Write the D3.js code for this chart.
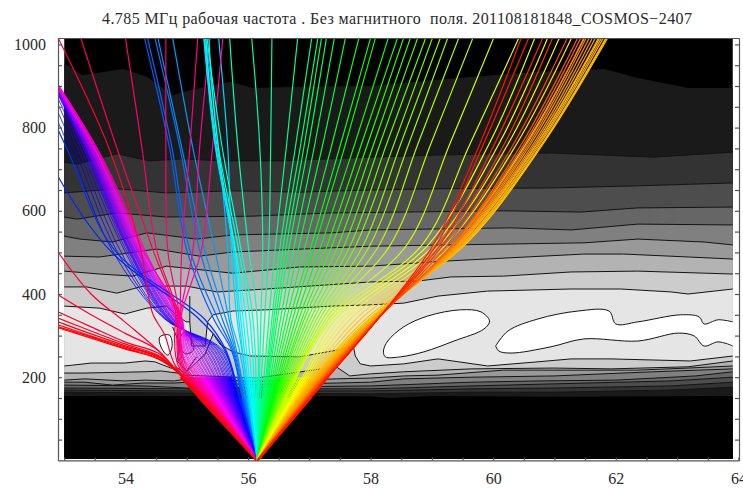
<!DOCTYPE html>
<html><head><meta charset="utf-8">
<script src="https://cdnjs.cloudflare.com/ajax/libs/d3/7.8.5/d3.min.js"></script>
<style>
html,body{margin:0;padding:0;background:#fff}
svg{display:block}
text{font-family:"Liberation Serif",serif;fill:#2a2a2a}
</style></head><body>
<svg id="c" width="743" height="488"></svg>
<script>
const title = "4.785 МГц рабочая частота . Без магнитного  поля. 201108181848_COSMOS−2407";
const xMajor = [54,56,58,60,62,64];
const yMajor = [200,400,600,800,1000];
const xTicks = [53,53.5,54,54.5,55,55.5,56,56.5,57,57.5,58,58.5,59,59.5,60,60.5,61,61.5,62,62.5,63,63.5,64];
const yTicks = [50,100,150,200,250,300,350,400,450,500,550,600,650,700,750,800,850,900,950,1000];
const rayOrigin = [56.15,0];

// Upper iso-lines, top to bottom: [degrees, km]
const upper0 = [[53,955],[53.3,926],[53.96,941],[54.35,922],[54.77,878],[55.05,890],[55.71,910],[56.08,895],[56.84,898],[58,900],[59.42,919],[60.73,934],[61.81,941],[62.36,919],[63.18,895],[63.91,895]];
const upper1 = [[53,717],[53.21,712],[53.86,737],[54.4,720],[54.94,725],[55.54,720],[56.56,720],[57.37,725],[58,729],[59.1,734],[60.17,737],[60.94,739],[62.62,729],[63.91,741]];
const upper2 = [[53,643],[53.86,653],[54.67,643],[55.75,648],[56.84,645],[58,650],[59.1,653],[60.94,655],[62.36,660],[63.91,667]];
const upper3 = [[53,585],[53.21,580],[53.86,595],[54.67,585],[56.03,587],[57.37,595],[58.54,597],[60.17,600],[61.43,597],[62.36,607],[63.91,609]];
const upper4 = [[53,539],[53.26,532],[53.79,525],[54.35,547],[55.16,532],[55.75,542],[57.37,547],[58,554],[60.29,559],[61.27,554],[62.36,568],[63.91,566]];
const upper5 = [[53,491],[53.58,489],[54.51,508],[55.21,491],[55.75,501],[58,515],[61.48,523],[62.36,532],[63.44,525],[63.91,518]];
const upper6 = [[53,455],[53.58,448],[54.12,443],[54.67,467],[55.75,450],[56.84,465],[58,467],[59.2,479],[61.48,496],[62.13,496],[63.18,489],[63.91,484]];
const upper7 = [[53,417],[53.37,417],[53.86,402],[54.29,419],[55,419],[55.49,405],[56.3,412],[58,429],[58.77,431],[59.31,441],[60.17,443],[61.27,453],[62.36,455],[63.91,448]];
const upperGrays = ["#1a1a1a","#333333","#4d4d4d","#666666","#808080","#999999","#b3b3b3","#cccccc"];

// The pale band
const paleTop = [[53,371],[53.58,366],[53.99,352],[54.35,366],[54.67,371],[54.85,347],[54.99,333],[55.05,333],[55.08,275],[55.3,275],[55.34,333],[55.43,350],[55.75,359],[56.3,362],[57.37,371],[58,374],[58.54,378],[59.1,395],[59.91,407],[61.27,412],[62.08,412],[62.9,405],[63.18,400],[63.91,412]];
const paleBottom = [[53,227],[53.14,229],[53.44,234],[53.99,234],[54.32,239],[54.48,237],[54.74,222],[54.85,222],[54.97,210],[55.3,255],[55.43,304],[55.54,280],[55.75,261],[56.03,251],[56.84,249],[57.37,263],[57.72,273],[57.75,251],[57.83,232],[58,227],[58.54,232],[59.1,244],[59.91,227],[60.73,237],[61.27,244],[61.92,244],[63.22,239],[63.91,251]];
const paleGray = "#e5e5e5";
const peakA = [[58.21,263],[58.28,287],[58.54,321],[58.93,347],[59.47,362],[59.8,357],[59.94,335],[59.85,316],[59.36,287],[58.87,261],[58.49,249],[58.24,249]];
const peakBTop = [[60.04,275],[60.24,311],[60.73,340],[61.38,359],[61.89,359],[62,328],[62.36,333],[63.06,350],[63.36,345],[63.44,328],[63.67,338],[63.91,333]];
const peakBBottom = [[60.04,275],[60.09,263],[60.29,258],[60.94,273],[61.48,292],[62.36,287],[63.02,306],[63.28,299],[63.44,275],[63.67,285],[63.91,275]];
const peakC = [[54.56,297],[54.72,301],[54.76,273],[54.69,253],[54.58,273]];
const loopD = [[54.94,306],[55.08,289],[55.11,265],[54.98,256],[54.88,277]];
const wiggle = [[54.77,321],[54.88,280],[54.84,239],[55,215],[55.16,249]];
const spur = [[55.05,395],[55.05,333]];

// Lower iso-lines, top to bottom
const lower1 = [[53,210],[53.34,210],[54.32,213],[54.58,215],[54.85,210],[54.97,205],[56.14,198],[57.44,225],[57.66,203],[58,208],[58.54,213],[59.64,220],[60.99,222],[61.92,220],[63.18,225],[63.91,239]];
const lower2 = [[53,193],[53.34,196],[53.99,191],[54.32,193],[54.8,191],[55,196],[56.14,190],[57.44,196],[58,198],[58.54,203],[59.1,205],[60.17,217],[62.36,217],[63.18,222],[63.91,227]];
const lower3 = [[53,188],[53.34,188],[53.79,181],[54.3,186],[54.8,186],[55,188],[56.14,182],[57.44,186],[58,188],[58.54,196],[59.64,200],[60.99,203],[62.6,213],[63.91,220]];
const lower4 = [[53,181],[54.3,179],[55,174],[56.14,176],[58,179],[59.64,188],[60.73,191],[62,193],[63.3,203],[63.91,213]];
const lower5 = [[53,174],[55,172],[58,172],[59.64,179],[61,184],[62.9,191],[63.91,200]];
const lower6 = [[53,169],[55,167],[58,167],[59.64,172],[61,174],[62.9,179],[63.91,188]];
const lower7 = [[53,164],[55,162],[58,160],[59.64,164],[61,164],[62.9,169],[63.91,176]];
const lower8 = [[53,155],[58,154],[58.3,150],[59,155],[61,153],[63.91,155]];
const lowerGrays = ["#b3b3b3","#999999","#808080","#666666","#4d4d4d","#333333","#1a1a1a","#000000"];

// Rays: longitude at each listed height
const centralHeights = [340,520,760,1016];
const cyanRays = [
[56.15,56.0,55.83,55.7],[56.08,55.87,55.57,55.33],[56.03,55.83,55.51,55.36],[55.97,55.78,55.49,55.29],
[55.92,55.77,55.47,55.31],[55.88,55.75,55.46,55.28],[55.85,55.75,55.47,55.28]];
const greenRays = [
[56.21,56.24,56.19,56.06],[56.27,56.34,56.37,56.39],[56.34,56.45,56.63,56.81],[56.39,56.53,56.78,57.04],
[56.42,56.58,56.86,57.14],[56.45,56.63,56.92,57.2],[56.48,56.68,56.99,57.28],[56.53,56.76,57.09,57.41],
[56.58,56.84,57.22,57.59],[56.63,56.94,57.37,57.81],[56.68,57.04,57.51,58],[56.73,57.1,57.59,58.08],
[56.78,57.2,57.74,58.29],[56.83,57.3,57.85,58.44],[56.88,57.38,57.95,58.54],[56.92,57.48,58.05,58.65],
[56.97,57.58,58.15,58.77],[57.02,57.68,58.26,58.9],[57.07,57.77,58.38,59.01],[57.12,57.89,58.49,59.14],
[57.17,58,58.62,59.26],[57.22,58.15,58.77,59.44],[57.27,58.33,58.98,59.67],[57.32,58.6,59.29,60.01],[57.37,58.85,59.62,60.42]];
const orangeHeights = [200,340,520,760,1016];
const orangeRays = [
[56.89,57.43,58.95,59.93,60.68],[56.92,57.51,59.05,60.09,60.89],[56.95,57.59,59.14,60.24,61.08],[56.98,57.67,59.24,60.38,61.28],
[57.01,57.76,59.34,60.53,61.49],[57.04,57.84,59.45,60.71,61.74],[57.07,57.92,59.55,60.81,61.87],[57.08,57.97,59.55,60.8,61.85],
[57.1,58,59.53,60.79,61.84],[57.11,58.02,59.51,60.76,61.8],[57.13,58.04,59.5,60.74,61.77],[57.14,58.06,59.47,60.71,61.72],
[57.15,58.07,59.45,60.68,61.67],[57.17,58.07,59.43,60.65,61.62],[57.18,58.08,59.42,60.61,61.57],[57.2,58.09,59.4,60.58,61.52],
[57.21,58.1,59.37,60.55,61.48],[57.23,58.1,59.35,60.5,61.43],[57.24,58.11,59.34,60.46,61.38],[57.26,58.12,59.26,60.33,61.21],
[57.28,58.12,59.19,60.18,60.97],[57.29,58.12,59.14,60.02,60.81],[57.3,58.12,59.08,59.84,60.58],[57.31,58.12,59.03,59.78,60.46]];

const leftHeights = [150,265,340,506,751,1016];
const azureRays = [
[56.01,55.9,55.82,55.73,55.67,55.52],[55.99,55.86,55.72,55.67,55.52,55.31],[55.96,55.81,55.69,55.46,55.1,54.77],
[55.95,55.79,55.64,55.29,54.92,54.53],[55.93,55.77,55.58,55.21,54.89,54.48],[55.92,55.75,55.51,55.05,54.76,54.36],
[55.91,55.73,55.44,55,54.72,54.31],[55.87,55.64,55.29,53.82,53.04,52.2],[55.86,55.62,55.2,53.74,52.65,51.95]];
const bundleRays = [
[55.83,55.59,54.64,53.78,53.09,52.27],[55.82,55.56,54.65,53.85,53.16,52.34],[55.8,55.54,54.66,53.91,53.22,52.4],
[55.79,55.51,54.68,53.98,53.27,52.44],[55.77,55.49,54.69,54.01,53.31,52.45],[55.76,55.46,54.7,54.04,53.32,52.46],
[55.74,55.44,54.71,54.05,53.34,52.44],[55.73,55.41,54.72,54.06,53.35,52.44],[55.72,55.39,54.73,54.07,53.36,52.44],
[55.7,55.36,54.75,54.08,53.37,52.44],[55.69,55.34,54.76,54.1,53.37,52.43],[55.67,55.31,54.77,54.11,53.38,52.43],
[55.66,55.29,54.78,54.12,53.39,52.43],[55.64,55.26,54.79,54.13,53.4,52.43],[55.63,55.23,54.81,54.14,53.41,52.42],
[55.62,55.21,54.82,54.15,53.42,52.42],[55.6,55.18,54.83,54.16,53.43,52.42],[55.59,55.16,54.84,54.18,53.43,52.42],
[55.57,55.13,54.85,54.19,53.44,52.41],[55.56,55.11,54.86,54.2,53.45,52.41],[55.54,55.08,54.88,54.21,53.46,52.41],
[55.53,55.06,54.89,54.22,53.47,52.41],[55.52,55.03,54.9,54.23,53.48,52.4],[55.5,55.01,54.91,54.24,53.49,52.4],
[55.49,54.98,54.92,54.26,53.49,52.4],[55.47,54.96,54.93,54.27,53.5,52.4],[55.46,54.94,54.92,54.28,53.51,52.4],
[55.44,54.91,54.89,54.29,53.52,52.4],[55.42,54.89,54.87,54.3,53.53,52.4],[55.41,54.87,54.83,54.32,53.54,52.4]];

const pinkHeights = [150,229,302,355,506,751,1016];
const pinkRays = [
[55.39,54.98,54.9,54.92,55.24,55.42,55.59],[55.38,54.95,54.89,54.9,55.1,55.21,55.38],
[55.36,54.93,54.87,54.89,54.92,55.05,55.18],[55.34,54.91,54.85,54.87,54.69,54.66,54.66],
[55.33,54.89,54.84,54.85,54.51,54.27,54],[55.31,54.86,54.8,54.82,54.45,53.86,53.27],
[55.28,54.81,54.64,54.44,54.25,53.73,52.9]];

const redLongitudes = [54.53,53.99,53.44,52.9];
const redRays = [
{start:55.28,turn:[54.76,227],h:[265,333,400,501]},
{start:55.27,turn:[54.77,227],h:[265,306,350,398]},
{start:55.26,turn:[54.79,225],h:[258,285,321,357]},
{start:55.25,turn:[54.8,222],h:[253,280,311,342]},
{start:55.24,turn:[54.8,220],h:[251,276,304,333]},
{start:55.23,turn:[54.82,217],h:[249,273,299,326]},
{start:55.22,turn:[54.83,215],h:[246,270,297,321]},
{start:55.21,turn:[54.84,213],h:[244,268,294,319]}];

// take-off slope (degrees per km) against hue
const slopeStops = [-0.0062,-0.0044,-0.00212,-0.0007,0.0018,0.0039,0.00516,0.00578];
const hueStops = [360,300,240,180,120,60,35,5];

const svg = d3.select("#c");
const x = d3.scaleLinear().domain([52.9,64.01]).range([58,739]);
const y = d3.scaleLinear().domain([0,1015.4]).range([460.4,38]);
const hue = d3.scaleLinear().domain(slopeStops).range(hueStops).clamp(true);
const line = d3.line().x(d=>x(d[0])).y(d=>y(d[1]));
const smooth = d3.line().x(d=>x(d[0])).y(d=>y(d[1])).curve(d3.curveCatmullRom.alpha(0.5));
const closed = d3.line().x(d=>x(d[0])).y(d=>y(d[1])).curve(d3.curveCatmullRomClosed.alpha(0.5));

const defs = svg.append("defs");
defs.append("clipPath").attr("id","frame").append("rect")
  .attr("x",x(52.9)).attr("y",y(1015.4)).attr("width",x(64.01)-x(52.9)).attr("height",y(0)-y(1015.4));
defs.append("clipPath").attr("id","fill").append("rect")
  .attr("x",x(53)).attr("y",y(1015.4)).attr("width",x(63.91)-x(53)).attr("height",y(0)-y(1015.4)-1.5);
defs.append("clipPath").attr("id","low").append("rect")
  .attr("x",x(52.9)).attr("y",y(150)).attr("width",x(64.01)-x(52.9)).attr("height",y(0)-y(150));
defs.append("clipPath").attr("id","mid").append("rect")
  .attr("x",x(52.9)).attr("y",y(200)).attr("width",x(64.01)-x(52.9)).attr("height",y(0)-y(200));

const field = svg.append("g").attr("clip-path","url(#fill)");
field.append("rect").attr("x",x(53)).attr("y",y(1015.4)).attr("width",x(63.91)-x(53)).attr("height",y(0)-y(1015.4)).attr("fill","#000");

const toFloor = c => c.concat([[63.91,0],[53,0]]);
const uppers = [upper0,upper1,upper2,upper3,upper4,upper5,upper6,upper7];
uppers.forEach((c,i)=>field.append("path").attr("d",line(toFloor(c))+"Z").attr("fill",upperGrays[i]));
field.append("path").attr("d",line(paleTop.concat(paleBottom.slice().reverse()))+"Z").attr("fill",paleGray);
[peakA,peakC].forEach(c=>field.append("path").attr("d",closed(c)).attr("fill","#fff"));
field.append("path").attr("d",smooth(peakBTop.concat(peakBBottom.slice().reverse()))+"Z").attr("fill","#fff");
field.append("path").attr("d",closed(loopD)).attr("fill","#ccc");
const lowers = [lower1,lower2,lower3,lower4,lower5,lower6,lower7,lower8];
lowers.forEach((c,i)=>field.append("path").attr("d",line(toFloor(c))+"Z").attr("fill",lowerGrays[i]));

const iso = field.append("g").attr("fill","none").attr("stroke","#141414").attr("stroke-width",1);
uppers.slice(1).concat(lowers.slice(0,7),[paleTop,paleBottom,wiggle,spur]).forEach(c=>iso.append("path").attr("d",line(c)));
[peakA,peakC,loopD].forEach(c=>iso.append("path").attr("d",closed(c)));
[peakBTop,peakBBottom].forEach(c=>iso.append("path").attr("d",smooth(c)));

// wider roots close the dense lower fan, thin rays run on top
const rootsMid = svg.append("g").attr("clip-path","url(#mid)").attr("fill","none").attr("stroke-width",1.5);
const rootsLow = svg.append("g").attr("clip-path","url(#low)").attr("fill","none").attr("stroke-width",2.4);
const rays = svg.append("g").attr("clip-path","url(#frame)").attr("fill","none");
function drawRay(points,width){
  const p=[rayOrigin].concat(points);
  const slope=(points[0][0]-rayOrigin[0])/points[0][1];
  const colour=d3.hsl(hue(slope),1,0.5).formatHex();
  const end=[rayOrigin[0]+slope*240,240];
  rootsMid.append("path").attr("d",line([rayOrigin,end])).attr("stroke",colour);
  rootsLow.append("path").attr("d",line([rayOrigin,end])).attr("stroke",colour);
  rays.append("path").attr("d",smooth(p)).attr("stroke",colour).attr("stroke-width",width);
}
const fromRows=(rows,hs,width)=>rows.forEach(r=>drawRay(r.map((v,i)=>[v,hs[i]]),width));
redRays.forEach(r=>drawRay([[r.start,150],r.turn].concat(r.h.map((v,i)=>[redLongitudes[i],v])),1.2));
fromRows(bundleRays,leftHeights,0.8);
fromRows(azureRays,leftHeights,1.2);
fromRows(pinkRays,pinkHeights,1.2);
fromRows(cyanRays,centralHeights,1.2);
fromRows(greenRays,centralHeights,1.2);
fromRows(orangeRays,orangeHeights,1.2);

const axStyle = g=>{g.selectAll("path,line").attr("stroke","#555").attr("stroke-width",1.2).attr("fill","none");
  g.selectAll("text").attr("font-size",16).attr("font-family","Liberation Serif").attr("fill","#2a2a2a");};
svg.append("g").attr("transform",`translate(0,${y(0)})`)
  .call(d3.axisBottom(x).tickValues(xTicks).tickSize(-3).tickSizeOuter(0).tickPadding(12)
    .tickFormat(d=>xMajor.includes(d)?d:"")).call(axStyle);
svg.append("g").attr("transform",`translate(${x(52.9)},0)`)
  .call(d3.axisLeft(y).tickValues(yTicks).tickSize(-4).tickSizeOuter(0).tickPadding(12)
    .tickFormat(d=>yMajor.includes(d)?d:"")).call(axStyle);
svg.append("g").attr("transform",`translate(${x(64.01)},0)`)
  .call(d3.axisRight(y).tickValues(yTicks).tickSize(-4).tickSizeOuter(0).tickFormat("")).call(axStyle);
svg.append("g").attr("transform",`translate(0,${y(1015.4)})`)
  .call(d3.axisTop(x).tickValues([]).tickSizeOuter(0)).call(axStyle);

svg.append("text").attr("x",102).attr("y",24).attr("font-size",16)
  .attr("textLength",590).attr("lengthAdjust","spacing").attr("xml:space","preserve").style("white-space","pre").text(title);
</script></body></html>
